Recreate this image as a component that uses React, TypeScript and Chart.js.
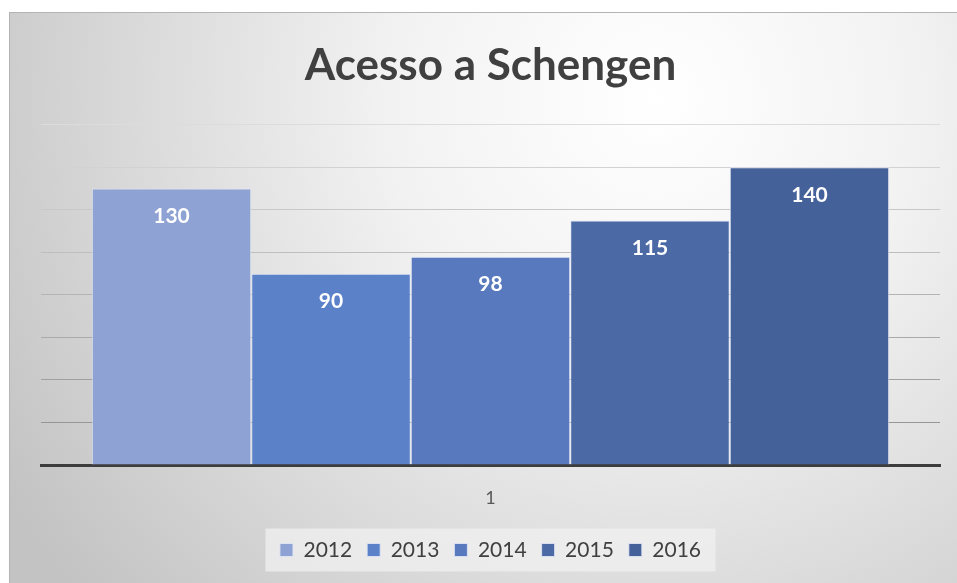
import React, { useEffect, useRef } from "react";
import { Chart, registerables } from "chart.js";

Chart.register(...registerables);

const categories = ["1"];
const seriesLabels = ["2012", "2013", "2014", "2015", "2016"];
const seriesValues = [130, 90, 98, 115, 140];
const seriesColors = ["#8FA2D4", "#5B81C9", "#5879BE", "#4A69A5", "#45619A"];
const yMax = 160;
const yStep = 20;
const chartTitle = "Acesso a Schengen";

const FONT = "Lato, 'Open Sans', sans-serif";

const gridShade = (v: number) => {
  const t = Math.max(0, Math.min(1, v / yMax));
  const c = Math.round(0x8c + (0xdc - 0x8c) * t);
  return `rgb(${c},${c},${c})`;
};

const backgroundPlugin = {
  id: "bgGradient",
  beforeDraw(chart: any) {
    const { ctx, width, height } = chart;
    ctx.save();
    const g = ctx.createRadialGradient(width * 0.68, height * 0.15, 0, width * 0.68, height * 0.15, width * 0.8);
    g.addColorStop(0, "#ffffff");
    g.addColorStop(0.35, "#f2f2f2");
    g.addColorStop(1, "#c3c3c3");
    ctx.fillStyle = g;
    ctx.fillRect(0, 0, width, height);
    const lg = chart.legend;
    if (lg && lg.legendHitBoxes && lg.legendHitBoxes.length) {
      const hb = lg.legendHitBoxes;
      let minX = Infinity, maxX = -Infinity, minY = Infinity, maxY = -Infinity;
      hb.forEach((b: any) => {
        minX = Math.min(minX, b.left);
        maxX = Math.max(maxX, b.left + b.width);
        minY = Math.min(minY, b.top);
        maxY = Math.max(maxY, b.top + b.height);
      });
      const cx = (minX + maxX) / 2;
      const w = maxX - minX + 29;
      ctx.fillStyle = "rgba(240,240,240,0.75)";
      ctx.fillRect(cx - w / 2, minY - 11, w, maxY - minY + 22);
    }
    ctx.restore();
  },
};

const dataLabelPlugin = {
  id: "barValueLabels",
  afterDatasetsDraw(chart: any) {
    const { ctx } = chart;
    ctx.save();
    ctx.fillStyle = "#ffffff";
    ctx.font = `bold 21px ${FONT}`;
    ctx.textAlign = "center";
    ctx.textBaseline = "middle";
    chart.data.datasets.forEach((ds: any, i: number) => {
      const meta = chart.getDatasetMeta(i);
      meta.data.forEach((el: any, j: number) => {
        ctx.fillText(String(ds.data[j]), el.x, el.y + 28);
      });
    });
    ctx.restore();
  },
};

export default function App() {
  const ref = useRef<HTMLCanvasElement | null>(null);
  useEffect(() => {
    if (!ref.current) return;
    const chart = new Chart(ref.current, {
      type: "bar",
      data: {
        labels: categories,
        datasets: seriesLabels.map((lab, i) => ({
          label: lab,
          data: [seriesValues[i]],
          backgroundColor: seriesColors[i],
          borderColor: "rgba(226,232,246,0.85)",
          borderWidth: 1,
          barPercentage: 1,
          categoryPercentage: 0.887,
        })),
      },
      options: {
        animation: false,
        responsive: false,
        maintainAspectRatio: false,
        layout: { padding: { left: 31, right: 17, top: 0, bottom: 12.5 } },
        plugins: {
          title: {
            display: true,
            text: chartTitle,
            color: "#404040",
            font: { family: FONT, size: 44, weight: "bold" },
            padding: { top: 26, bottom: 33 },
          },
          legend: {
            display: true,
            position: "bottom",
            labels: {
              color: "#404040",
              font: { family: FONT, size: 21 },
              boxWidth: 13,
              boxHeight: 13,
              padding: 15,
            },
          },
          tooltip: { enabled: false },
        },
        scales: {
          x: {
            grid: { display: false, drawTicks: false },
            border: { display: true, color: "#3d3d3d", width: 3 },
            ticks: { color: "#595959", font: { family: FONT, size: 18 }, padding: 22 },
            afterFit: (scale: any) => {
              scale.height = 59.5;
            },
          },
          y: {
            min: 0,
            max: yMax,
            ticks: { display: false, stepSize: yStep },
            grid: {
              color: (c: any) => gridShade(c.tick ? c.tick.value : 0),
              lineWidth: 1,
              drawTicks: false,
            },
            border: { display: false },
          },
        },
      },
      plugins: [backgroundPlugin, dataLabelPlugin],
    });
    return () => chart.destroy();
  }, []);
  return (
    <div
      style={{
        position: "absolute",
        left: 9,
        top: 12,
        width: 948,
        height: 571,
        boxSizing: "border-box",
        borderTop: "1px solid #b4b4b4",
        borderLeft: "1px solid #b4b4b4",
        overflow: "hidden",
      }}
    >
      <canvas ref={ref} width={947} height={570} style={{ display: "block" }} />
    </div>
  );
}
